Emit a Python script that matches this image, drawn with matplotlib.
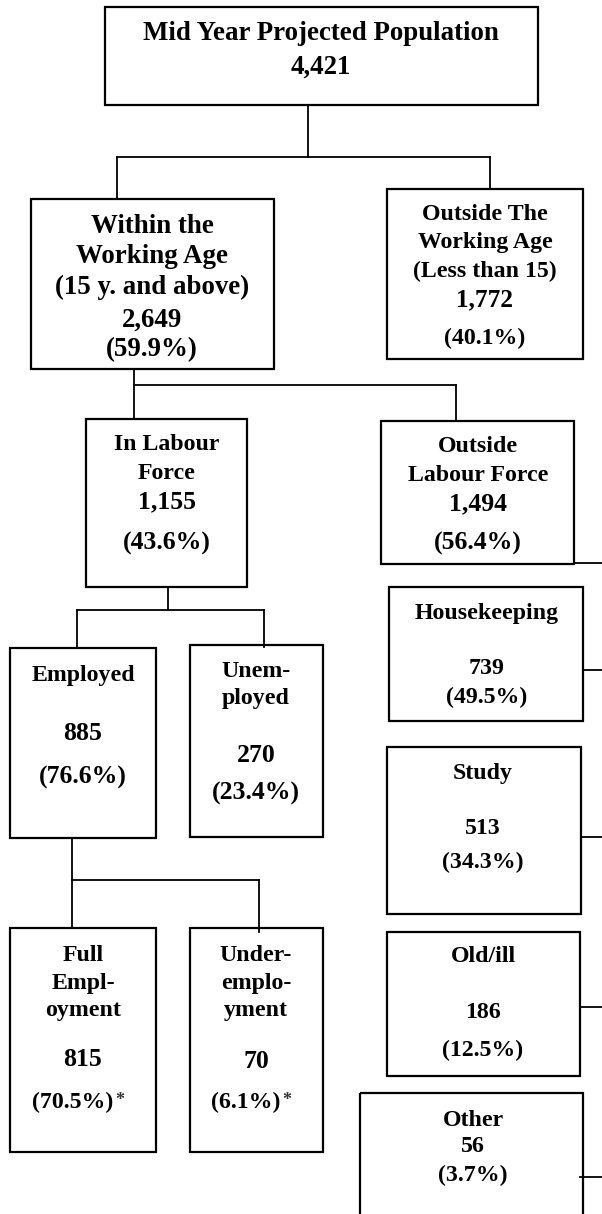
import matplotlib.pyplot as plt

# Labour force tree: labels, counts and shares
labels = ['Mid Year Projected Population',
          'Within the\nWorking Age\n(15 y. and above)',
          'Outside The\nWorking Age\n(Less than 15)',
          'In Labour\nForce',
          'Outside\nLabour Force',
          'Employed',
          'Unem-\nployed',
          'Housekeeping',
          'Study',
          'Full\nEmpl-\noyment',
          'Under-\nemplo-\nyment',
          'Old/ill',
          'Other']
values = [4421, 2649, 1772, 1155, 1494, 885, 270, 739, 513, 815, 70, 186, 56]
shares = [None, 59.9, 40.1, 43.6, 56.4, 76.6, 23.4, 49.5, 34.3, 70.5, 6.1, 12.5, 3.7]
starred = [False, False, False, False, False, False, False, False, False, True, True, False, False]

# Layout in pixels: box (x0, x1, y0, y1), text centre x, label / value / share y
boxes = [(105, 538, 7, 105), (31, 274, 199, 369), (387, 583, 189, 359),
         (86, 247, 419, 587), (381, 574, 421, 564), (10, 156, 648, 838),
         (190, 323, 645, 837), (389, 583, 587, 721), (387, 581, 747, 914),
         (10, 156, 928, 1152), (190, 323, 928, 1152), (387, 580, 932, 1076),
         (360, 583, 1093, 1260)]
text_x = [321, 152, 485, 167, 478, 83, 256, 487, 483, 83, 256, 483, 473]
label_y = [34, 257, 243, 459, 461, 675, 685, 613, 774, 983, 983, 957, 1120]
value_y = [67, 320, 300, 502, 504, 733, 755, 668, 828, 1060, 1062, 1013, 1147]
share_y = [None, 350, 338, 543, 543, 777, 793, 697, 862, 1102, 1102, 1050, 1175]
label_fs = [19.4, 19.4, 17.2, 17.2, 17.2, 17.2, 17.2, 17.2, 17.2, 17.2, 17.2, 17.2, 17.2]
num_fs = [19.4, 19.4, 18.2, 18.5, 18.5, 18.5, 18.5, 17.2, 17.2, 18.5, 18.5, 17.2, 17.2]
share_fs = [19.4, 19.4, 17.2, 18.5, 18.5, 18.5, 18.5, 17.2, 17.2, 17.2, 17.2, 17.2, 17.2]
label_ls = [1.3, 1.28, 1.45, 1.45, 1.45, 1.36, 1.33, 1.36, 1.36, 1.42, 1.42, 1.36, 1.36]

# Elbow connectors: (parent x, parent bottom, bar y, [(child x, child top), ...])
elbows = [(308, 105, 157, [(117, 199), (490, 189)]),
          (134, 369, 385, [(134, 419), (456, 421)]),
          (168, 587, 610, [(77, 648), (264, 647)]),
          (72, 838, 880, [(72, 928), (259, 932)])]
stub_y = [563, 670, 837, 1007, 1177]
stub_x0 = [574, 583, 581, 580, 580]

plt.rcParams['font.family'] = ['Liberation Serif', 'DejaVu Serif']
plt.rcParams['font.weight'] = 'bold'

fig = plt.figure(figsize=(6.02, 12.14), dpi=100)
ax = fig.add_axes([0, 0, 1, 1])
ax.set_xlim(0, 602)
ax.set_ylim(1214, 0)
ax.axis('off')

for i, (x0, x1, y0, y1) in enumerate(boxes):
    ax.add_patch(plt.Rectangle((x0, y0), x1 - x0, y1 - y0, fill=False,
                               edgecolor='black', linewidth=1.6, zorder=3))
    ax.text(text_x[i], label_y[i], labels[i], ha='center', va='center',
            fontsize=label_fs[i], fontweight='bold', linespacing=label_ls[i])
    ax.text(text_x[i], value_y[i], f'{values[i]:,}', ha='center', va='center',
            fontsize=num_fs[i], fontweight='bold')
    if shares[i] is not None:
        shift = -10 if starred[i] else 0
        t = ax.text(text_x[i] + shift, share_y[i], f'({shares[i]}%)', ha='center',
                    va='center', fontsize=share_fs[i], fontweight='bold')
        if starred[i]:
            # small superscript asterisk right after the share
            ax.annotate('*', xy=(1, 0.98), xycoords=t, xytext=(1, 0),
                        textcoords='offset points', ha='left', va='top',
                        fontsize=13, color='#333333')

for px, pb, bar, kids in elbows:
    ax.plot([px, px], [pb, bar], color='black', lw=1.3)
    xs = [k[0] for k in kids] + [px]
    ax.plot([min(xs), max(xs)], [bar, bar], color='black', lw=1.3)
    for kx, kt in kids:
        ax.plot([kx, kx], [bar, kt], color='black', lw=1.3)

for y, x0 in zip(stub_y, stub_x0):
    ax.plot([x0, 610], [y, y], color='black', lw=1.3, clip_on=False)

fig.savefig('out.png', dpi=100)
